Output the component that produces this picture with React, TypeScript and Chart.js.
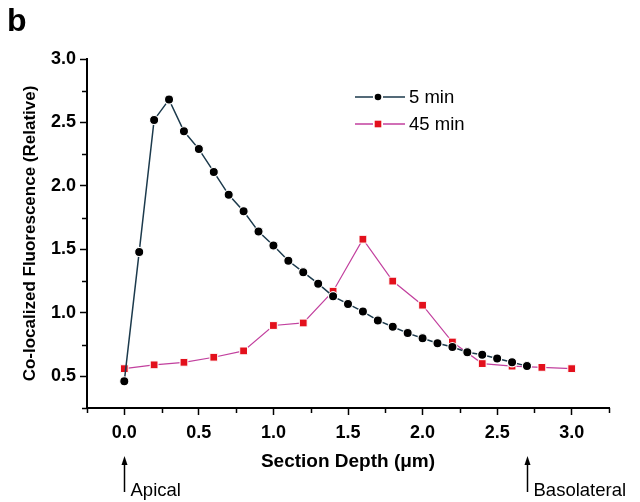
import React, { useEffect, useRef } from 'react';
import { Chart, registerables } from 'chart.js';

Chart.register(...registerables);

// ---- data ----
const depth5min = [0.0, 0.1, 0.2, 0.3, 0.4, 0.5, 0.6, 0.7, 0.8, 0.9, 1.0, 1.1, 1.2, 1.3, 1.4, 1.5, 1.6, 1.7, 1.8, 1.9, 2.0, 2.1, 2.2, 2.3, 2.4, 2.5, 2.6, 2.7];
const values5min = [0.46, 1.48, 2.52, 2.68, 2.43, 2.29, 2.11, 1.93, 1.80, 1.64, 1.53, 1.41, 1.32, 1.23, 1.13, 1.07, 1.01, 0.94, 0.89, 0.84, 0.80, 0.76, 0.73, 0.69, 0.67, 0.64, 0.61, 0.58];
const depth45min = [0.0, 0.2, 0.4, 0.6, 0.8, 1.0, 1.2, 1.4, 1.6, 1.8, 2.0, 2.2, 2.4, 2.6, 2.8, 3.0];
const values45min = [0.56, 0.59, 0.61, 0.65, 0.70, 0.90, 0.92, 1.17, 1.58, 1.25, 1.06, 0.77, 0.60, 0.58, 0.57, 0.56];

const seriesNames = ['5 min', '45 min'];
const xTicks = [0.0, 0.5, 1.0, 1.5, 2.0, 2.5, 3.0];
const yTicks = [0.5, 1.0, 1.5, 2.0, 2.5, 3.0];
const xMinorTicks = [-0.25, 0.25, 0.75, 1.25, 1.75, 2.25, 2.75, 3.25];
const yMinorTicks = [0.25, 0.75, 1.25, 1.75, 2.25, 2.75];
const markerLabels = ['Apical', 'Basolateral'];
const markerDepths = [0.0, 2.7];
const panelLabel = 'b';
const xTitle = 'Section Depth (\u03bcm)';
const yTitle = 'Co-localized Fluorescence (Relative)';

const FONT = '"Liberation Sans", Arial, Helvetica, sans-serif';
const LINE5 = '#1c3a4c';
const LINE45 = '#c2409e';
const MARK45 = '#e3101c';

const extrasPlugin = {
  id: 'extras',
  afterDraw(chart: any) {
    const ctx = chart.ctx;
    const xs = chart.scales.x;
    const ys = chart.scales.y;
    const area = chart.chartArea;
    ctx.save();
    ctx.strokeStyle = '#000';
    ctx.lineWidth = 1.5;
    // minor ticks
    xMinorTicks.forEach((v) => {
      const px = Math.round(xs.getPixelForValue(v)) + 0.5;
      ctx.beginPath();
      ctx.moveTo(px, area.bottom);
      ctx.lineTo(px, area.bottom + 5);
      ctx.stroke();
    });
    yMinorTicks.forEach((v) => {
      const py = Math.round(ys.getPixelForValue(v)) + 0.5;
      ctx.beginPath();
      ctx.moveTo(area.left, py);
      ctx.lineTo(area.left - 5, py);
      ctx.stroke();
    });

    // panel label
    ctx.fillStyle = '#000';
    ctx.font = 'bold 32px ' + FONT;
    ctx.textAlign = 'left';
    ctx.textBaseline = 'alphabetic';
    ctx.fillText(panelLabel, 7, 31);

    // legend
    const lx0 = 355, lx1 = 405, mx = 378;
    const rows = [97, 124];
    ctx.font = '18.5px ' + FONT;
    ctx.textBaseline = 'middle';
    rows.forEach((ry, i) => {
      ctx.strokeStyle = i === 0 ? LINE5 : LINE45;
      ctx.lineWidth = 1.4;
      ctx.beginPath();
      ctx.moveTo(lx0, ry);
      ctx.lineTo(mx - 5, ry);
      ctx.moveTo(mx + 5, ry);
      ctx.lineTo(lx1, ry);
      ctx.stroke();
      if (i === 0) {
        ctx.fillStyle = '#000';
        ctx.beginPath();
        ctx.arc(mx, ry, 3.3, 0, Math.PI * 2);
        ctx.fill();
      } else {
        ctx.fillStyle = MARK45;
        ctx.fillRect(mx - 3.3, ry - 3.3, 6.6, 6.6);
      }
      ctx.fillStyle = '#000';
      ctx.fillText(seriesNames[i], 409, ry + 1);
    });

    // arrows
    ctx.font = '18.5px ' + FONT;
    ctx.textBaseline = 'alphabetic';
    markerDepths.forEach((d, i) => {
      const px = Math.round(xs.getPixelForValue(d)) + 0.5;
      ctx.strokeStyle = '#000';
      ctx.lineWidth = 1.5;
      ctx.beginPath();
      ctx.moveTo(px, 464);
      ctx.lineTo(px, 492);
      ctx.stroke();
      ctx.fillStyle = '#000';
      ctx.beginPath();
      ctx.moveTo(px, 456);
      ctx.lineTo(px - 3, 465);
      ctx.lineTo(px + 3, 465);
      ctx.closePath();
      ctx.fill();
      ctx.fillText(markerLabels[i], px + 6, 496);
    });
    ctx.restore();
  },
};

export default function App() {
  const ref = useRef<HTMLCanvasElement | null>(null);
  useEffect(() => {
    if (!ref.current) return;
    const chart = new Chart(ref.current, {
      type: 'line',
      data: {
        datasets: [
          {
            label: seriesNames[0],
            data: depth5min.map((x, i) => ({ x, y: values5min[i] })),
            borderColor: LINE5,
            borderWidth: 1.5,
            pointStyle: 'circle',
            pointRadius: 4.6,
            pointBackgroundColor: '#000',
            pointBorderColor: '#fff',
            pointBorderWidth: 1.2,
            tension: 0,
            fill: false,
          },
          {
            label: seriesNames[1],
            data: depth45min.map((x, i) => ({ x, y: values45min[i] })),
            borderColor: LINE45,
            borderWidth: 1.2,
            pointStyle: 'rect',
            pointRadius: 5.5,
            pointBackgroundColor: MARK45,
            pointBorderColor: '#fff',
            pointBorderWidth: 1,
            tension: 0,
            fill: false,
          },
        ],
      },
      options: {
        responsive: false,
        animation: false,
        devicePixelRatio: 1,
        layout: { padding: { top: 59, right: 31, left: 0, bottom: 0 } },
        plugins: {
          legend: { display: false },
          tooltip: { enabled: false },
        },
        scales: {
          x: {
            type: 'linear',
            min: -0.25,
            max: 3.25,
            afterBuildTicks: (s: any) => {
              s.ticks = xTicks.map((v) => ({ value: v }));
            },
            afterFit: (s: any) => {
              s.height = 94;
            },
            ticks: {
              callback: (v: any) => Number(v).toFixed(1),
              font: { family: FONT, weight: 'bold', size: 18 },
              color: '#000',
              padding: 7,
              maxRotation: 0,
              autoSkip: false,
            },
            grid: {
              drawOnChartArea: false,
              drawTicks: true,
              tickLength: 7,
              tickColor: '#000',
              tickWidth: 1.5,
            },
            border: { display: true, color: '#000', width: 2 },
            title: {
              display: true,
              text: xTitle,
              color: '#000',
              font: { family: FONT, weight: 'bold', size: 19 },
              padding: { top: 0, bottom: 29 },
            },
          },
          y: {
            type: 'linear',
            min: 0.25,
            max: 3.0,
            afterBuildTicks: (s: any) => {
              s.ticks = yTicks.map((v) => ({ value: v }));
            },
            afterFit: (s: any) => {
              s.width = 87;
            },
            ticks: {
              callback: (v: any) => Number(v).toFixed(1),
              font: { family: FONT, weight: 'bold', size: 18 },
              color: '#000',
              padding: 4,
            },
            grid: {
              drawOnChartArea: false,
              drawTicks: true,
              tickLength: 7,
              tickColor: '#000',
              tickWidth: 1.5,
            },
            border: { display: true, color: '#000', width: 2 },
            title: {
              display: true,
              text: yTitle,
              color: '#000',
              font: { family: FONT, weight: 'bold', size: 17 },
              padding: { top: 20, bottom: 0 },
            },
          },
        },
      },
      plugins: [extrasPlugin],
    });
    return () => chart.destroy();
  }, []);

  return (
    <div style={{ position: 'fixed', left: 0, top: 0, width: 640, height: 502, background: '#fff' }}>
      <canvas ref={ref} width={640} height={502} style={{ width: 640, height: 502, display: 'block' }} />
    </div>
  );
}
